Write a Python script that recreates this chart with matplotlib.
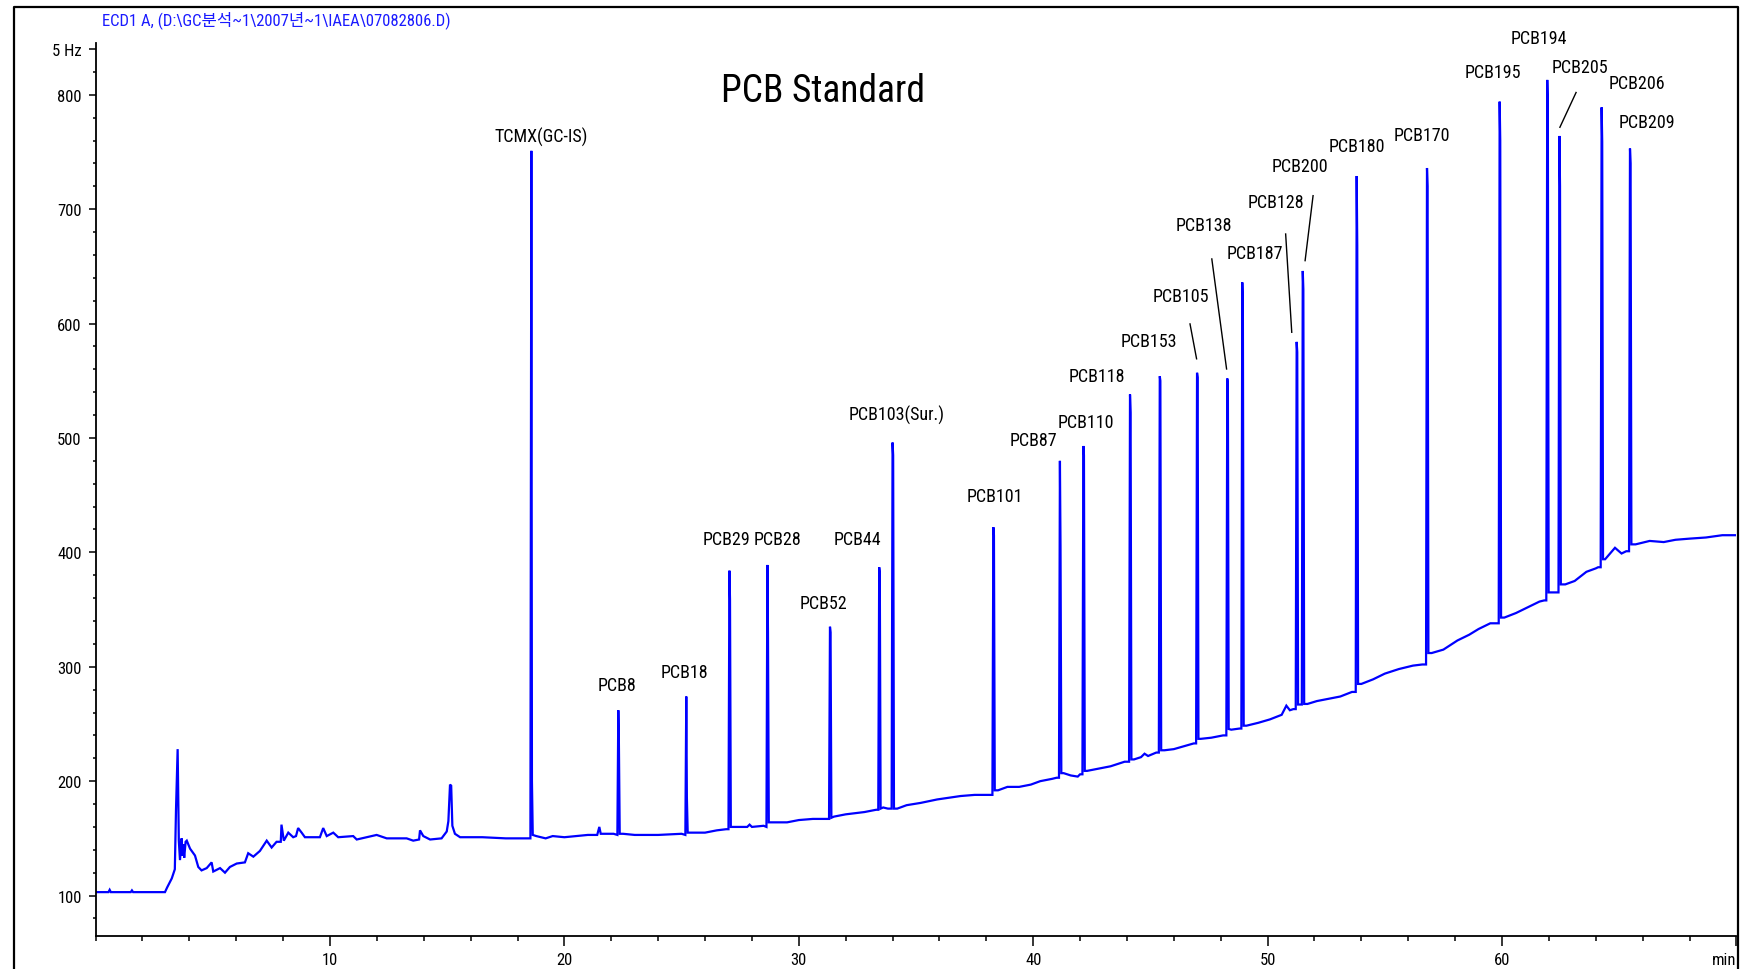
import numpy as np
import matplotlib
matplotlib.use('Agg')
import matplotlib.pyplot as plt
import matplotlib.font_manager as fm
from matplotlib.lines import Line2D
from matplotlib.ticker import MultipleLocator

# ---------------- data ----------------
# baseline / noise knots (retention time [min], signal [Hz])
bl_t = [0.0, 0.55, 0.6, 0.65, 1.5, 1.55, 1.6, 2.96, 3.05, 3.25, 3.38, 3.43, 3.50, 3.55,
        3.60, 3.67, 3.70, 3.74, 3.78, 3.84, 3.89, 4.03, 4.24, 4.38, 4.52, 4.74, 4.95,
        5.02, 5.31, 5.52, 5.73, 6.02, 6.37, 6.51, 6.73, 7.01, 7.30, 7.51, 7.72, 7.90,
        7.93, 8.03, 8.22, 8.43, 8.55, 8.64, 8.79, 8.93, 9.57, 9.71, 9.86, 10.14, 10.35,
        10.99, 11.14, 11.99, 12.42, 13.27, 13.55, 13.80, 13.84, 13.98, 14.27, 14.76,
        14.98, 15.05, 15.12, 15.17, 15.22, 15.33, 15.55, 16.5, 17.5, 18.4,
        18.8, 19.2, 19.5, 20.0, 20.5, 21.0, 21.4, 21.49, 21.55, 22.1,
        22.5, 23.0, 24.0, 25.0, 25.4, 26.0, 26.5, 26.9, 27.3, 27.8, 27.9, 28.0, 28.5,
        28.9, 29.5, 30.0, 30.6, 31.2, 31.5, 32.0, 32.8, 33.3, 33.6, 33.8, 34.2, 34.6,
        35.2, 35.9, 36.9, 37.5, 38.1, 38.5, 38.9, 39.4, 39.9, 40.3, 40.8, 41.0, 41.3,
        41.6, 41.9, 42.0, 42.3, 42.8, 43.3, 43.9, 44.3, 44.6, 44.75, 44.9, 45.25, 45.6,
        46.0, 46.5, 46.85, 47.15, 47.6, 48.1, 48.45, 48.8, 49.1, 49.6, 50.1, 50.6, 50.8,
        50.95, 51.1, 51.7, 52.1, 52.6, 53.1, 53.6, 54.0, 54.5, 55.0, 55.6, 56.2, 56.6,
        57.0, 57.5, 58.1, 58.6, 59.0, 59.5, 60.1, 60.6, 61.1, 61.6, 61.8, 62.7, 63.1,
        63.6, 64.0, 64.1, 64.4, 64.82, 65.1, 65.3, 65.7, 66.3, 66.9, 67.4, 68.0, 68.7,
        69.4, 70.0]
bl_v = [103, 103, 105, 103, 103, 104.5, 103, 103, 107, 115, 123, 175, 228, 148,
        131, 150, 135, 145, 133, 147, 148, 141, 135, 125, 122, 124, 129,
        121, 124, 120, 125, 128, 129, 137, 134, 139, 148, 142, 147, 147,
        162, 148, 155, 151, 152, 159, 155, 151, 151, 159, 152, 155, 151,
        152, 149, 153, 150, 150, 148, 149, 157, 152, 149, 150,
        156, 165, 197, 196, 161, 154, 151, 151, 150, 150,
        152, 150, 152, 151, 152, 153, 153, 160, 154, 154,
        154, 153, 153, 154, 155, 155, 157, 158, 160, 160, 162, 160, 161,
        164, 164, 166, 167, 167, 169, 171, 173, 175, 177, 176, 176, 179,
        181, 184, 187, 188, 188, 192, 195, 195, 197, 200, 202, 203, 207,
        205, 204, 206, 209, 211, 213, 217, 219, 221, 224, 222, 225, 227,
        228, 231, 233, 237, 238, 240, 245, 246, 248.5, 251, 254, 258, 266,
        262, 263, 267.5, 270, 272, 274, 278, 285, 289, 294, 298, 301, 302,
        312, 315, 323, 328, 333, 338, 343, 347, 352, 357, 358, 372, 375,
        383, 386, 387, 394, 404, 399, 401, 407, 410, 409, 411, 412, 413,
        415, 415]

# sharp peaks: retention time, apex, shoulder, baseline before / after
pk_rt = [18.59, 22.30, 25.20, 27.04, 28.66, 31.33, 33.43, 34.00, 38.30, 41.14, 42.14,
         44.13, 45.40, 46.99, 48.28, 48.92, 51.24, 51.50, 53.80, 56.80, 59.90, 61.93,
         62.45, 64.25, 65.46]
pk_apex = [751, 262, 274, 384, 389, 335, 387, 496, 422, 480, 493,
           538, 554, 557, 552, 636, 584, 646, 729, 736, 794, 813,
           764, 789, 753]
pk_shoulder = [200, 233, 186, 359, 330, 330, 382, 485, 415, 406, 485,
               522, 550, 553, 546, 615, 575, 630, 668, 720, 760, 790,
               720, 759, 740]
pk_base0 = [150, 153, 153, 158, 160, 167, 175, 176, 188, 203, 206,
            217, 225, 233, 240, 246, 263, 267, 278, 302, 338, 358,
            365, 387, 401]
pk_base1 = [153, 154, 155, 160, 164, 168, 176, 176, 192, 207, 209,
            219, 227, 237, 245.6, 248.5, 267, 267.5, 285, 312, 343, 365,
            372, 394, 407]

# peak labels
lab_text = ['TCMX(GC-IS)', 'PCB8', 'PCB18', 'PCB29', 'PCB28', 'PCB52', 'PCB44',
            'PCB103(Sur.)', 'PCB101', 'PCB87', 'PCB110', 'PCB118', 'PCB153', 'PCB105',
            'PCB138', 'PCB187', 'PCB128', 'PCB200', 'PCB180', 'PCB170', 'PCB195',
            'PCB194', 'PCB205', 'PCB206', 'PCB209']
lab_x = [19.0, 22.23, 25.1, 26.92, 29.08, 31.05, 32.51, 34.18, 38.37, 40.0, 42.24,
         42.71, 44.95, 46.31, 47.27, 49.44, 50.37, 51.38, 53.8, 56.59, 59.62,
         61.59, 63.33, 65.77, 66.17]
lab_y = [764, 284, 295, 412, 412, 356, 412, 521, 449, 498, 514,
         554, 585, 624, 686, 662, 706, 738, 755, 765, 820,
         850, 824, 810, 776]

# leader lines (x0, y0, x1, y1)
lead_x0 = [46.69, 47.62, 50.77, 51.94, 63.16]
lead_y0 = [599.7, 656.5, 678.3, 711.8, 802]
lead_x1 = [46.97, 48.25, 51.03, 51.60, 62.47]
lead_y1 = [569.2, 560.3, 592.4, 655.0, 771.6]

y_major = [100, 200, 300, 400, 500, 600, 700, 800, 840]
y_major_lab = ['100', '200', '300', '400', '500', '600', '700', '800', '5 Hz']
x_major = [10, 20, 30, 40, 50, 60, 70]
x_major_lab = ['10', '20', '30', '40', '50', '60', 'min']

header = r'ECD1 A, (D:\GC분석~1\2007년~1\IAEA\07082806.D)'
title = 'PCB Standard'

# ---------------- fonts ----------------
entries = fm.fontManager.ttflist
names = {f.name for f in entries}
narrow = None
stretch = 'normal'
for cand in ['Liberation Sans Narrow', 'Arial Narrow', 'Roboto Condensed',
             'Open Sans Condensed', 'DejaVu Sans Condensed', 'Noto Sans Condensed']:
    if cand in names:
        narrow = cand
        break
if narrow is None and any(f.name == 'DejaVu Sans' and f.stretch == 'condensed' for f in entries):
    narrow = 'DejaVu Sans'
    stretch = 'condensed'
if narrow is not None:
    FAM = [narrow, 'Noto Sans CJK KR']
    fs_lab, fs_tick, fs_title, fs_head = 13, 12, 27, 12
else:
    FAM = ['Liberation Sans', 'Noto Sans CJK KR']
    fs_lab, fs_tick, fs_title, fs_head = 11.5, 10.5, 23, 11.5
plt.rcParams['font.family'] = FAM
plt.rcParams['font.stretch'] = stretch

# ---------------- figure ----------------
W, H = 1742, 970
fig = plt.figure(figsize=(W / 100, H / 100), dpi=100)
fig.patch.set_facecolor('white')
ax = fig.add_axes([95.6 / W, (H - 936.6) / H, (1736.4 - 95.6) / W, (936.6 - 44.3) / H])

# assemble the trace from baseline knots and peaks
tt = list(bl_t)
vv = list(bl_v)
for rt, ap, sh, b0, b1 in zip(pk_rt, pk_apex, pk_shoulder, pk_base0, pk_base1):
    tt += [rt - 0.04, rt, rt + 0.025, rt + 0.06]
    vv += [b0, ap, sh, b1]
order = np.argsort(tt, kind='stable')
tt = np.asarray(tt)[order]
vv = np.asarray(vv)[order]
ax.plot(tt, vv, color='#0000ff', lw=1.6, solid_joinstyle='miter')

for s, x, y in zip(lab_text, lab_x, lab_y):
    ax.text(x, y, s, ha='center', va='center', fontsize=fs_lab, color='black')
for x0, y0, x1, y1 in zip(lead_x0, lead_y0, lead_x1, lead_y1):
    ax.plot([x0, x1], [y0, y1], color='black', lw=1.0)

ax.set_xlim(0, 70)
ax.set_ylim(65, 845)
ax.set_xticks(x_major, labels=x_major_lab)
ax.set_yticks(y_major, labels=y_major_lab)
ax.xaxis.set_minor_locator(MultipleLocator(2))
ax.yaxis.set_minor_locator(MultipleLocator(20))
ax.get_xticklabels()[-1].set_ha('right')
ax.tick_params(axis='x', which='major', direction='out', length=7, width=1.1, pad=5,
               labelsize=fs_tick)
ax.tick_params(axis='x', which='minor', direction='out', length=3.5, width=1.1)
ax.tick_params(axis='y', which='major', direction='out', length=5, width=1.1, pad=5,
               labelsize=fs_tick)
ax.tick_params(axis='y', which='minor', direction='out', length=2.5, width=1.1)
for side in ('top', 'right'):
    ax.spines[side].set_visible(False)
for side in ('left', 'bottom'):
    ax.spines[side].set_linewidth(1.3)
    ax.spines[side].set_color('black')

# outer frame
fig.add_artist(Line2D([14 / W, 14 / W, 1738 / W, 1738 / W],
                      [0, 1 - 7.5 / H, 1 - 7.5 / H, 0],
                      transform=fig.transFigure, color='black', lw=1.6))

fig.text(102 / W, 1 - 20 / H, header, ha='left', va='center', fontsize=fs_head,
         color='#1a1aff')
fig.text(823 / W, 1 - 92 / H, title, ha='center', va='center', fontsize=fs_title,
         color='black')

fig.savefig('out.png', dpi=100, facecolor='white')
